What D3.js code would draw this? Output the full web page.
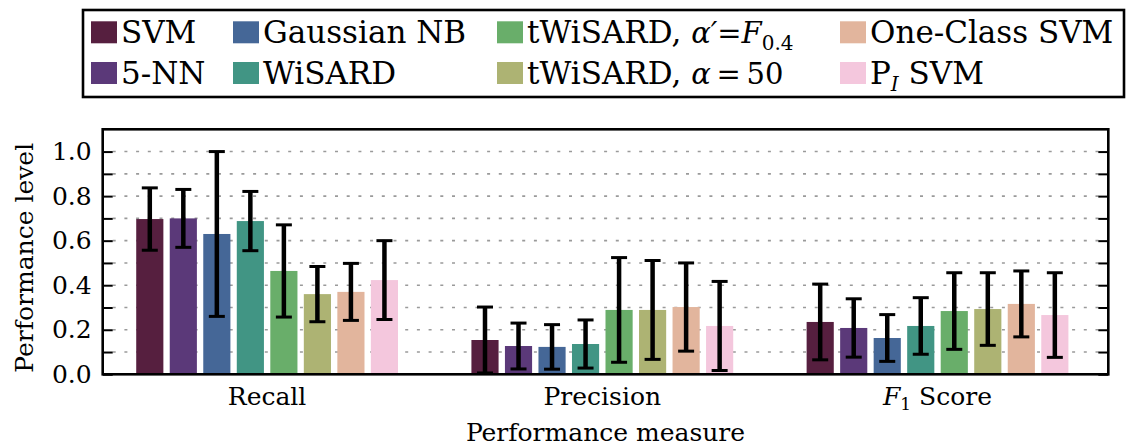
<!DOCTYPE html>
<html>
<head>
<meta charset="utf-8">
<script src="https://cdn.jsdelivr.net/npm/d3@7"></script>
<style>
  body { margin: 0; background: #fff; }
  svg, svg text, svg tspan { font-family: "DejaVu Serif", serif !important; fill: #000; }
</style>
</head>
<body>
<div id="chart_div"></div>
<script>
// chart data
const categories = ["Recall", "Precision", "F1"];
const methods = ["SVM", "5-NN", "Gaussian NB", "WiSARD", "tWiSARD a'", "tWiSARD a50", "One-Class SVM", "PI SVM"];
const colors = ["#561f3f", "#5b3979", "#456797", "#419584", "#69ae6a", "#adb373", "#e2b59d", "#f4c7dd"];
const recallMean = [0.697, 0.700, 0.630, 0.688, 0.464, 0.360, 0.370, 0.423];
const recallErr = [0.140, 0.130, 0.370, 0.133, 0.207, 0.124, 0.128, 0.177];
const precisionMean = [0.154, 0.127, 0.123, 0.136, 0.289, 0.289, 0.302, 0.217];
const precisionErr = [0.148, 0.103, 0.100, 0.108, 0.235, 0.222, 0.198, 0.200];
const f1Mean = [0.235, 0.208, 0.163, 0.217, 0.284, 0.293, 0.316, 0.266];
const f1Err = [0.170, 0.131, 0.105, 0.127, 0.172, 0.163, 0.148, 0.190];
const yTicks = [0, 0.1, 0.2, 0.3, 0.4, 0.5, 0.6, 0.7, 0.8, 0.9, 1.0];

const means = [recallMean, precisionMean, f1Mean];
const errs = [recallErr, precisionErr, f1Err];

const width = 1129, height = 447;
const plot = {left: 102.7, right: 1108.3, top: 129.3, bottom: 374.3};
const barStep = 0.1, barWidth = 0.081;
const serif = "'DejaVu Serif', serif";

const svg = d3.select("#chart_div")
  .append("svg")
    .attr("width", width)
    .attr("height", height)
    .style("font-family", serif);

const x = d3.scaleLinear().domain([-0.1, 2.9]).range([plot.left, plot.right]);
const y = d3.scaleLinear().domain([0, 1.1]).range([plot.bottom, plot.top]);

// flatten into bar records
const bars = [];
categories.forEach((c, i) => {
  methods.forEach((m, j) => {
    bars.push({cat: i, m: j, v: means[i][j], e: errs[i][j]});
  });
});

// dotted grid
svg.append("g")
  .selectAll("line")
  .data(yTicks.filter(d => d > 0))
  .join("line")
    .attr("x1", plot.left)
    .attr("x2", plot.right)
    .attr("y1", d => y(d))
    .attr("y2", d => y(d))
    .attr("stroke", "#9a9a9a")
    .attr("stroke-width", 1.6)
    .attr("stroke-dasharray", "3,8.7")
    .attr("stroke-dashoffset", -10);

// bars
svg.append("g")
  .selectAll("rect")
  .data(bars)
  .join("rect")
    .attr("x", d => x(d.cat + d.m * barStep))
    .attr("width", x(barWidth) - x(0))
    .attr("y", d => y(d.v))
    .attr("height", d => y(0) - y(d.v))
    .attr("fill", d => colors[d.m]);

// error bars
const eb = svg.append("g").attr("stroke", "#000");
const cx = d => x(d.cat + d.m * barStep + barWidth / 2);
const capHalf = 8;
eb.selectAll("line.stem")
  .data(bars)
  .join("line")
    .attr("class", "stem")
    .attr("x1", cx).attr("x2", cx)
    .attr("y1", d => y(d.v + d.e))
    .attr("y2", d => y(Math.max(d.v - d.e, 0)))
    .attr("stroke-width", 4.5);
eb.selectAll("line.capTop")
  .data(bars)
  .join("line")
    .attr("class", "capTop")
    .attr("x1", d => cx(d) - capHalf).attr("x2", d => cx(d) + capHalf)
    .attr("y1", d => y(d.v + d.e)).attr("y2", d => y(d.v + d.e))
    .attr("stroke-width", 3);
eb.selectAll("line.capBot")
  .data(bars)
  .join("line")
    .attr("class", "capBot")
    .attr("x1", d => cx(d) - capHalf).attr("x2", d => cx(d) + capHalf)
    .attr("y1", d => y(Math.max(d.v - d.e, 0))).attr("y2", d => y(Math.max(d.v - d.e, 0)))
    .attr("stroke-width", 3);

// y axes (ticks pointing inward)
const leftAxis = svg.append("g")
  .attr("transform", `translate(${plot.left},0)`)
  .call(d3.axisLeft(y).tickValues(yTicks).tickSize(-10).tickPadding(11)
    .tickFormat(d => (Math.round(d * 10) % 2 === 0) ? d3.format(".1f")(d) : ""));
leftAxis.attr("font-family", serif).attr("font-size", 25);
leftAxis.select(".domain").remove();
leftAxis.selectAll("line").attr("stroke", "#000").attr("stroke-width", 2);
leftAxis.selectAll("text").style("font-size", "25px").style("font-family", serif);

const rightAxis = svg.append("g")
  .attr("transform", `translate(${plot.right},0)`)
  .call(d3.axisRight(y).tickValues(yTicks).tickSize(-10).tickFormat(""));
rightAxis.select(".domain").remove();
rightAxis.selectAll("line").attr("stroke", "#000").attr("stroke-width", 2);

// frame
svg.append("rect")
  .attr("x", plot.left).attr("y", plot.top)
  .attr("width", plot.right - plot.left)
  .attr("height", plot.bottom - plot.top)
  .attr("fill", "none")
  .attr("stroke", "#000")
  .attr("stroke-width", 2.6);

// category labels
const catLabels = svg.append("g").selectAll("text")
  .data(categories)
  .join("text")
    .attr("x", (d, i) => x(i + (7 * barStep + barWidth) / 2))
    .attr("y", 405)
    .attr("text-anchor", "middle")
    .style("font-family", serif)
    .style("font-size", "25px");
catLabels.each(function(d) {
  const t = d3.select(this);
  if (d === "F1") {
    t.append("tspan").style("font-style", "italic").text("F");
    t.append("tspan").attr("dy", 5).style("font-size", "17px").text("1");
    t.append("tspan").attr("dy", -5).text("\u00a0Score");
  } else {
    t.text(d);
  }
});

// axis titles
svg.append("text")
  .attr("x", (plot.left + plot.right) / 2)
  .attr("y", 441)
  .attr("text-anchor", "middle")
  .style("font-family", serif)
  .style("font-size", "25px")
  .text("Performance measure");

svg.append("text")
  .attr("transform", `translate(33,${(plot.top + plot.bottom) / 2 + 6}) rotate(-90)`)
  .attr("text-anchor", "middle")
  .style("font-family", serif)
  .style("font-size", "25px")
  .text("Performance level");

// legend
const legend = svg.append("g");
legend.append("rect")
  .attr("x", 83).attr("y", 10)
  .attr("width", 1041).attr("height", 87)
  .attr("fill", "#fff")
  .attr("stroke", "#000")
  .attr("stroke-width", 2.6);

const colX = [91, 233, 497, 840];
const rowY = [43.3, 84];
methods.forEach((m, j) => {
  const cx0 = colX[Math.floor(j / 2)], by = rowY[j % 2];
  legend.append("rect")
    .attr("x", cx0).attr("y", by - 22)
    .attr("width", 26).attr("height", 22)
    .attr("fill", colors[j]);
  const t = legend.append("text")
    .attr("x", cx0 + 30).attr("y", by)
    .style("font-family", serif)
    .style("font-size", "31px");
  if (m === "tWiSARD a'") {
    t.append("tspan").text("tWiSARD, ");
    t.append("tspan").style("font-style", "italic").style("font-size", "29px").text("\u03b1\u2032");
    t.append("tspan").style("font-size", "29px").text("=");
    t.append("tspan").style("font-style", "italic").style("font-size", "29px").text("F");
    t.append("tspan").attr("dy", 7).style("font-size", "20px").text("0.4");
  } else if (m === "tWiSARD a50") {
    t.append("tspan").text("tWiSARD, ");
    t.append("tspan").style("font-style", "italic").style("font-size", "29px").text("\u03b1");
    t.append("tspan").style("font-size", "29px").text("\u2009=\u200950");
  } else if (m === "PI SVM") {
    t.append("tspan").text("P");
    t.append("tspan").attr("dy", 7).style("font-style", "italic").style("font-size", "20px").text("I");
    t.append("tspan").attr("dy", -7).text(" SVM");
  } else {
    t.text(m);
  }
});
</script>
</body>
</html>
